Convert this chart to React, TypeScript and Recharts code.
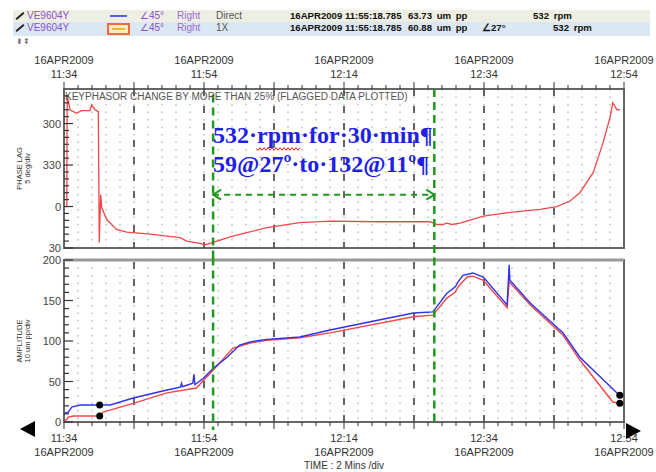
import React from 'react';
import {
  LineChart, Line, XAxis, YAxis, CartesianGrid, ReferenceLine, ReferenceArea, ReferenceDot,
} from 'recharts';

// minutes after 11:34
const labelTimes = [0, 20, 40, 60, 80];
const timeLabels = ['11:34', '11:54', '12:14', '12:34', '12:54'];
const dateLabel = '16APR2009';
const majorGridTimes = [10, 20, 30, 40, 50, 60, 70];
const cursorTimes = [21.3, 52.9];

const phaseLabels = [300, 330, 360, 390];
const ampLabels = [0, 50, 100, 150, 200];

// phase lag (deg, unwrapped past 360)
const phaseTimes = [0.29, 0.4, 0.45, 0.86, 1.8, 2.5, 3.7, 3.95, 4.43, 4.9, 5.04, 5.24, 5.39, 6.1, 7.5, 8.96, 12.3, 16.6, 17.5, 19.4, 20.1, 21.3, 24.1, 29, 33.7, 38, 45, 52.3, 53.3, 54.1, 54.7, 55.4, 56.6, 59.9, 64.1, 68, 70.4, 72.3, 73.7, 75.6, 77, 78, 78.4, 79, 79.4];
const phaseLag = [360, 360, 279.4, 290, 292.6, 290.7, 290.7, 286.6, 290, 291.4, 386, 351.4, 360.7, 369.4, 376.5, 378.5, 380, 382.5, 385, 386.6, 387.8, 386, 381.4, 375.3, 371.7, 370.6, 371, 371, 373, 373, 372, 373, 372, 367, 364, 362, 360, 356, 350, 335.5, 314, 295.6, 285, 290, 290];

// direct amplitude (um pp)
const directTimes = [0.1, 0.6, 1.1, 2.3, 5.1, 6.6, 9.9, 14.7, 16.6, 16.8, 16.9, 18.4, 18.57, 18.7, 19.9, 21.3, 23.3, 25.1, 26.6, 29, 33.7, 38, 49.9, 52.7, 54.7, 55.9, 56.3, 57, 58.4, 59.9, 63.3, 63.6, 63.7, 66.6, 71.3, 73.7, 79, 79.4];
const directAmp = [11, 12, 18.5, 21, 21, 21, 29.6, 39.5, 43, 47.7, 43.5, 48, 59, 46, 54, 66, 80, 95, 99, 102, 105, 113.6, 134.6, 136, 159, 167, 173, 181, 184, 179, 144.4, 194, 175, 147, 110, 80, 35.8, 33];

// 1X amplitude (um pp)
const oneXTimes = [0.1, 0.6, 1.3, 5.1, 5.6, 9.9, 14.7, 18.9, 21.3, 24.1, 26.6, 29, 33.7, 38, 49.9, 52.7, 54.7, 55.9, 56.3, 57.6, 58.4, 59.9, 63.3, 63.6, 66.6, 71.3, 73.7, 78.4, 79.4];
const oneXAmp = [0, 6, 7.4, 7.4, 12.3, 23, 36, 42, 64, 91, 97.5, 101, 104, 110, 130, 132, 153, 160.5, 167, 179, 180, 175, 141, 173, 144.4, 107, 76.5, 24.7, 23];

const cursorMarks = [
  { t: 5.1, direct: 21, oneX: 7.4 },
  { t: 79.4, direct: 33, oneX: 23 },
];

const range = (a: number, b: number, s: number) => {
  const out: number[] = [];
  for (let v = a; v <= b; v += s) out.push(v);
  return out;
};
const minuteTicks = range(0, 80, 2);
const phaseTicks = range(280, 390, 5);
const ampTicks = range(0, 200, 10);

const phaseData = phaseTimes.map((t, i) => ({ t, v: phaseLag[i] }));
const directData = directTimes.map((t, i) => ({ t, v: directAmp[i] }));
const oneXData = oneXTimes.map((t, i) => ({ t, v: oneXAmp[i] }));

const GREEN = '#1f9a1f';
const RED = '#f04848';
const BLUE = '#3030ee';
const AX = '#333';
const SANS = '"Liberation Sans", Arial, sans-serif';

const TimeTick = ({ x, y, payload, top }: any) => {
  const v = payload.value;
  const major = v % 10 === 0;
  const idx = labelTimes.indexOf(v);
  const d = top ? -1 : 1;
  return (
    <g>
      <line x1={x} x2={x} y1={y} y2={y + d * (major ? 7 : 4)} stroke={AX} strokeWidth={1} />
      {idx >= 0 && (
        <g fontFamily={SANS} fontSize={11} fill={AX} textAnchor="middle">
          <text x={x} y={top ? y - 25 : y + 34}>{dateLabel}</text>
          <text x={x} y={top ? y - 11 : y + 20}>{timeLabels[idx]}</text>
        </g>
      )}
    </g>
  );
};

const LeftTick = ({ x, y, payload, labels, fmt }: any) => {
  const v = payload.value;
  const major = labels.includes(v);
  return (
    <g>
      <line x1={x} x2={x + (major ? 9 : 5)} y1={y} y2={y} stroke={AX} strokeWidth={1.2} />
      {major && (
        <text x={x - 3} y={y + 4} textAnchor="end" fontFamily={SANS} fontSize={11} fill="#444">{fmt(v)}</text>
      )}
    </g>
  );
};

const RightTick = ({ x, y, payload, labels }: any) => {
  const major = labels.includes(payload.value);
  return <line x1={x} x2={x - (major ? 9 : 5)} y1={y} y2={y} stroke={AX} strokeWidth={1.2} />;
};

const axisTitle = (a: string, b: string) => (p: any) => {
  const vb = p.viewBox;
  const cy = vb.y + vb.height / 2;
  return (
    <g fontFamily={SANS} fontSize={7.5} fill={AX} textAnchor="middle">
      <text transform={`translate(${vb.x - 12},${cy}) rotate(-90)`}>{a}</text>
      <text transform={`translate(${vb.x - 4},${cy}) rotate(-90)`}>{b}</text>
    </g>
  );
};

const ArrowLine = (p: any) => {
  const { x1, y1, x2, y2 } = p;
  return (
    <g stroke={GREEN} strokeWidth={2} fill="none">
      <line x1={x1} y1={y1} x2={x2} y2={y2} strokeDasharray="6 5" />
      <path d={`M${x1 + 8},${y1 - 5}L${x1},${y1}L${x1 + 8},${y1 + 5}`} />
      <path d={`M${x2 - 8},${y2 - 5}L${x2},${y2}L${x2 - 8},${y2 + 5}`} />
    </g>
  );
};

const NoteText = (p: any) => {
  // red spell-check squiggle under "rpm"
  const wx0 = p.cx + 43;
  const wy = p.cy + 6;
  let wave = `M${wx0},${wy}`;
  for (let i = 1; i <= 22; i++) wave += `L${wx0 + i * 2},${wy + (i % 2 ? 1.3 : -1.3)}`;
  return (
    <g fontFamily='"Liberation Serif", "Times New Roman", serif' fontWeight="bold" fontSize={24} fill="#1f1fe8">
      <text x={p.cx} y={p.cy}>532·rpm·for·30·min¶</text>
      <path d={wave} stroke="#e02020" strokeWidth={1} fill="none" />
      <text x={p.cx} y={p.cy + 29}>59@27º·to·132@11º¶</text>
    </g>
  );
};

const FlagText = (p: any) => (
  <text x={p.cx + 1} y={p.cy + 11} fontFamily={SANS} fontSize={10} fill="#555">
    KEYPHASOR CHANGE BY MORE THAN 25% (FLAGGED DATA PLOTTED)
  </text>
);

const hdr: React.CSSProperties = { position: 'absolute', fontFamily: SANS, fontSize: 10, whiteSpace: 'nowrap', lineHeight: '12px' };
const bold: React.CSSProperties = { ...hdr, fontWeight: 'bold', color: '#111', fontSize: 9.6 };
const purple = '#8a52cc';

const HeaderRow = ({ top, height, bg, swatch, mode, amp, angle, rpmLeft }: any) => (
  <div style={{ position: 'absolute', left: 13, top, width: 637, height, background: bg }}>
    <div style={{ position: 'absolute', left: 2, top: 5, width: 10, height: 2, background: '#222', transform: 'rotate(-40deg)' }} />
    <span style={{ ...hdr, left: 14, top: 0, color: purple }}>VE9604Y</span>
    {swatch}
    <span style={{ ...hdr, left: 127, top: 0, color: purple }}>∠45°</span>
    <span style={{ ...hdr, left: 164, top: 0, color: '#9a6ad6' }}>Right</span>
    <span style={{ ...hdr, left: 203, top: 0, color: '#555' }}>{mode}</span>
    <span style={{ ...bold, left: 277, top: 0 }}>16APR2009 11:55:18.785</span>
    <span style={{ ...bold, left: 395, top: 0, wordSpacing: 2 }}>{amp}</span>
    {angle && <span style={{ ...bold, left: 469, top: 0 }}>{angle}</span>}
    <span style={{ ...bold, left: rpmLeft, top: 0, wordSpacing: 2 }}>532 rpm</span>
  </div>
);

export default function App() {
  return (
    <div style={{ position: 'absolute', left: 0, top: 0, width: 656, height: 472, background: '#fff', overflow: 'hidden' }}>
      <HeaderRow
        top={10} height={12} bg="#efeee2" mode="Direct" amp="63.73 um pp" rpmLeft={520}
        swatch={<div style={{ position: 'absolute', left: 97, top: 5, width: 17, height: 2, background: '#5a5af0' }} />}
      />
      <HeaderRow
        top={22} height={14} bg="#dbe7f2" mode="1X" amp="60.88 um pp" angle="∠27°" rpmLeft={540}
        swatch={
          <div style={{ position: 'absolute', left: 94, top: 1, width: 19, height: 8, border: '2px solid #f06a3a', background: '#fde8c8' }}>
            <div style={{ margin: '3px 3px', height: 2, background: '#f2b820' }} />
          </div>
        }
      />
      <span style={{ ...hdr, left: 16, top: 36, fontSize: 8, color: '#555' }}>⇟⇞</span>

      <div style={{ position: 'absolute', left: 0, top: 0 }}>
        <LineChart width={656} height={262} margin={{ top: 39, right: 32, bottom: 14, left: 34 }}>
          <XAxis
            xAxisId={0} type="number" dataKey="t" orientation="top" domain={[0, 80]} ticks={minuteTicks}
            interval={0} height={50} tickSize={0} tickMargin={0} tickLine={false} axisLine={false}
            tick={(p: any) => <TimeTick {...p} top />} allowDataOverflow
          />
          <YAxis
            yAxisId={0} type="number" domain={[275, 390]} reversed ticks={phaseTicks} interval={0} width={30}
            tickSize={0} tickMargin={0} tickLine={false} axisLine={false} allowDataOverflow
            tick={(p: any) => <LeftTick {...p} labels={phaseLabels} fmt={(v: number) => v % 360} />}
            label={axisTitle('PHASE LAG', '5 deg/div')}
          />
          <YAxis
            yAxisId="r" orientation="right" type="number" domain={[275, 390]} reversed ticks={phaseTicks}
            interval={0} width={0} tickSize={0} tickMargin={0} tickLine={false} axisLine={false}
            tick={(p: any) => <RightTick {...p} labels={phaseLabels} />}
          />
          <CartesianGrid horizontal={false} stroke="#9a9a9a" strokeDasharray="1.5 6" />
          {majorGridTimes.map((t) => (
            <ReferenceLine key={t} x={t} stroke="#555" strokeWidth={1.8} strokeDasharray="7 10" />
          ))}
          <Line data={phaseData} dataKey="v" type="linear" stroke={RED} strokeWidth={1.3} dot={false} isAnimationActive={false} />
          <ReferenceArea x1={0} x2={80} y1={275} y2={390} fill="none" stroke="#666" strokeWidth={2} />
          <ReferenceDot x={0} y={275} shape={FlagText} />
          {cursorTimes.map((t, i) => (
            <ReferenceLine
              key={t} ifOverflow="visible" stroke={GREEN} strokeWidth={2.5} strokeDasharray="8 5"
              segment={[{ x: t, y: i === 0 ? 279 : 275 }, { x: t, y: 399 }]}
            />
          ))}
          <ReferenceLine
            ifOverflow="visible" shape={ArrowLine}
            segment={[{ x: cursorTimes[0], y: 351.4 }, { x: cursorTimes[1], y: 351.4 }]}
          />
          <ReferenceDot x={cursorTimes[0]} y={314} shape={NoteText} />
        </LineChart>
      </div>

      <div style={{ position: 'absolute', left: 0, top: 250 }}>
        <LineChart width={656} height={222} margin={{ top: 10, right: 32, bottom: 0, left: 34 }}>
          <XAxis
            xAxisId={0} type="number" dataKey="t" domain={[0, 80]} ticks={minuteTicks} interval={0} height={50}
            tickSize={0} tickMargin={0} tickLine={false} axisLine={false} allowDataOverflow
            tick={(p: any) => <TimeTick {...p} />}
            label={{ value: 'TIME : 2 Mins /div', position: 'insideBottom', offset: 3, fill: AX, fontSize: 10, fontFamily: SANS }}
          />
          <YAxis
            yAxisId={0} type="number" domain={[0, 200]} ticks={ampTicks} interval={0} width={30}
            tickSize={0} tickMargin={0} tickLine={false} axisLine={false} allowDataOverflow
            tick={(p: any) => <LeftTick {...p} labels={ampLabels} fmt={(v: number) => v} />}
            label={axisTitle('AMPLITUDE', '10 um pp/div')}
          />
          <YAxis
            yAxisId="r" orientation="right" type="number" domain={[0, 200]} ticks={ampTicks} interval={0}
            width={0} tickSize={0} tickMargin={0} tickLine={false} axisLine={false}
            tick={(p: any) => <RightTick {...p} labels={ampLabels} />}
          />
          <CartesianGrid horizontal={false} stroke="#9a9a9a" strokeDasharray="1.5 6" />
          {majorGridTimes.map((t) => (
            <ReferenceLine key={t} x={t} stroke="#555" strokeWidth={1.8} strokeDasharray="7 10" />
          ))}
          <Line data={oneXData} dataKey="v" type="linear" stroke={RED} strokeWidth={1.4} dot={false} isAnimationActive={false} />
          <Line data={directData} dataKey="v" type="linear" stroke={BLUE} strokeWidth={1.4} dot={false} isAnimationActive={false} />
          <ReferenceArea x1={0} x2={80} y1={0} y2={200} fill="none" stroke="#666" strokeWidth={2} />
          <ReferenceLine y={200} stroke="#999" strokeWidth={3} />
          {cursorTimes.map((t, i) => (
            <ReferenceLine
              key={t} ifOverflow="visible" stroke={GREEN} strokeWidth={2.5} strokeDasharray="8 5"
              segment={[{ x: t, y: 203 }, { x: t, y: i === 0 ? -10 : 0 }]}
            />
          ))}
          {cursorMarks.map((m) => (
            <React.Fragment key={m.t}>
              <ReferenceDot x={m.t} y={m.direct} r={3.5} fill="#000" stroke="none" />
              <ReferenceDot x={m.t} y={m.oneX} r={3.5} fill="#000" stroke="none" />
            </React.Fragment>
          ))}
        </LineChart>
      </div>

      <div style={{ position: 'absolute', left: 20, top: 421, width: 0, height: 0, borderTop: '8px solid transparent', borderBottom: '8px solid transparent', borderRight: '15px solid #000' }} />
      <div style={{ position: 'absolute', left: 626, top: 423, width: 0, height: 0, borderTop: '8px solid transparent', borderBottom: '8px solid transparent', borderLeft: '15px solid #000' }} />
    </div>
  );
}
